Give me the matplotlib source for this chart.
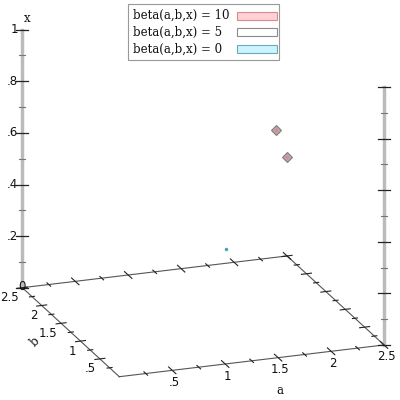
import matplotlib
matplotlib.use("Agg")
import matplotlib.pyplot as plt
import numpy as np
from matplotlib.patches import Rectangle

# iso-surface levels and legend styling
levels = [10, 5, 0]
level_labels = ["beta(a,b,x) = 10", "beta(a,b,x) = 5", "beta(a,b,x) = 0"]
level_faces = ["#ffd0d4", "#ffffff", "#ccf4ff"]
level_edges = ["#d98a90", "#8a8a8a", "#6aaabb"]

# visible bits of the surfaces (a, b, x)
pink_a = [2.03, 1.95]
pink_b = [1.5, 1.0]
pink_x = [0.65, 0.617]
cyan_a = [1.553]
cyan_b = [1.5]
cyan_x = [0.21]

ab_major = [0.5, 1.0, 1.5, 2.0, 2.5]
ab_minor = [0.25, 0.75, 1.25, 1.75, 2.25]
ab_labels = [".5", "1", "1.5", "2", "2.5"]
x_major = [0, 0.2, 0.4, 0.6, 0.8, 1.0]
x_minor = [0.1, 0.3, 0.5, 0.7, 0.9]
x_labels = ["0", ".2", ".4", ".6", ".8", "1"]

# screen projection (pixels)
O = np.array([119.3, 376.7])
VA = np.array([105.9, -12.7])
VB = np.array([-38.8, -35.6])
VX = np.array([0.0, -258.0])


def proj(a, b, x):
    return O + a * VA + b * VB + x * VX


fig = plt.figure(figsize=(4, 4), dpi=100)
ax = fig.add_axes([0, 0, 1, 1])
ax.set_xlim(0, 400)
ax.set_ylim(400, 0)
ax.axis("off")

edge_c = "#555555"
tick_c = "#222222"

# floor box
corners = [(0, 0), (2.5, 0), (2.5, 2.5), (0, 2.5), (0, 0)]
pts = np.array([proj(a, b, 0) for a, b in corners])
ax.plot(pts[:, 0], pts[:, 1], color=edge_c, lw=0.8, zorder=2)

ua = VA / np.linalg.norm(VA)
ub = VB / np.linalg.norm(VB)

# ticks along a edges (front b=0, back b=2.5)
for bb in [0, 2.5]:
    for t, L in [(v, 5) for v in ab_major] + [(v, 2.5) for v in ab_minor]:
        p = proj(t, bb, 0)
        q0, q1 = p - ub * L, p + ub * L
        ax.plot([q0[0], q1[0]], [q0[1], q1[1]], color=tick_c, lw=0.8, zorder=3)
# ticks along b edges (left a=0, right a=2.5)
for aa in [0, 2.5]:
    for t, L in [(v, 5) for v in ab_major] + [(v, 2.5) for v in ab_minor]:
        p = proj(aa, t, 0)
        q0, q1 = p - ua * L, p + ua * L
        ax.plot([q0[0], q1[0]], [q0[1], q1[1]], color=tick_c, lw=0.8, zorder=3)

# vertical x axes
for aa, bb in [(0, 2.5), (2.5, 0)]:
    p0, p1 = proj(aa, bb, 0), proj(aa, bb, 1)
    ax.plot([p0[0], p1[0]], [p0[1], p1[1]], color="#bbbbbb", lw=2.5, zorder=1)
    for t in x_major:
        p = proj(aa, bb, t)
        ax.plot([p[0] - 6, p[0] + 6], [p[1], p[1]], color=tick_c, lw=0.9, zorder=3)
    for t in x_minor:
        p = proj(aa, bb, t)
        ax.plot([p[0] - 3, p[0] + 3], [p[1], p[1]], color="#777777", lw=0.8, zorder=3)

sans = dict(family="DejaVu Sans", fontsize=8.5, color="#111111")
serif = dict(family="DejaVu Serif", fontsize=8.5, color="#111111")

# tick labels
for t, s in zip(x_major, x_labels):
    p = proj(0, 2.5, t)
    if t == 0:
        ax.text(p[0] + 3, p[1] - 1, s, ha="right", va="center", **sans)
    else:
        ax.text(p[0] - 4, p[1], s, ha="right", va="center", **sans)
for t, s in zip(ab_major, ab_labels):
    p = proj(t, 0, 0)
    ax.text(p[0] + 2, p[1] + 12, s, ha="center", va="center", **sans)
    p = proj(0, t, 0)
    ax.text(p[0] - 4, p[1] + 10, s, ha="right", va="center", **sans)

ax.text(27, 18, "x", ha="center", va="center", **serif)
ax.text(280, 391, "a", ha="center", va="center", **serif)
ax.text(35, 342, "b", ha="center", va="center", rotation=45, **serif)

# surface pieces
for a, b, x in zip(pink_a, pink_b, pink_x):
    p = proj(a, b, x)
    ax.plot(p[0], p[1], marker="D", ms=5.5, mfc="#b8a8ac", mec="#808080", mew=0.8, zorder=5)
    ax.plot(p[0], p[1], marker="D", ms=2.2, mfc="#e08890", mec="none", zorder=6)
for a, b, x in zip(cyan_a, cyan_b, cyan_x):
    p = proj(a, b, x)
    ax.plot(p[0], p[1], marker="o", ms=2.5, mfc="#4d9db5", mec="none", zorder=5)

# legend box, drawn by hand so the text stays left aligned
ax.add_patch(Rectangle((127.5, 3.5), 151, 56.5, facecolor="white", edgecolor="#999999",
                       lw=0.8, zorder=8))
for i, (lab, fc, ec) in enumerate(zip(level_labels, level_faces, level_edges)):
    y = 15.5 + i * 16.7
    ax.text(133, y, lab, ha="left", va="center", zorder=9, **serif)
    ax.add_patch(Rectangle((236.5, y - 4), 40, 8, facecolor=fc, edgecolor=ec, lw=0.8, zorder=9))

fig.savefig("out.png", dpi=100)
